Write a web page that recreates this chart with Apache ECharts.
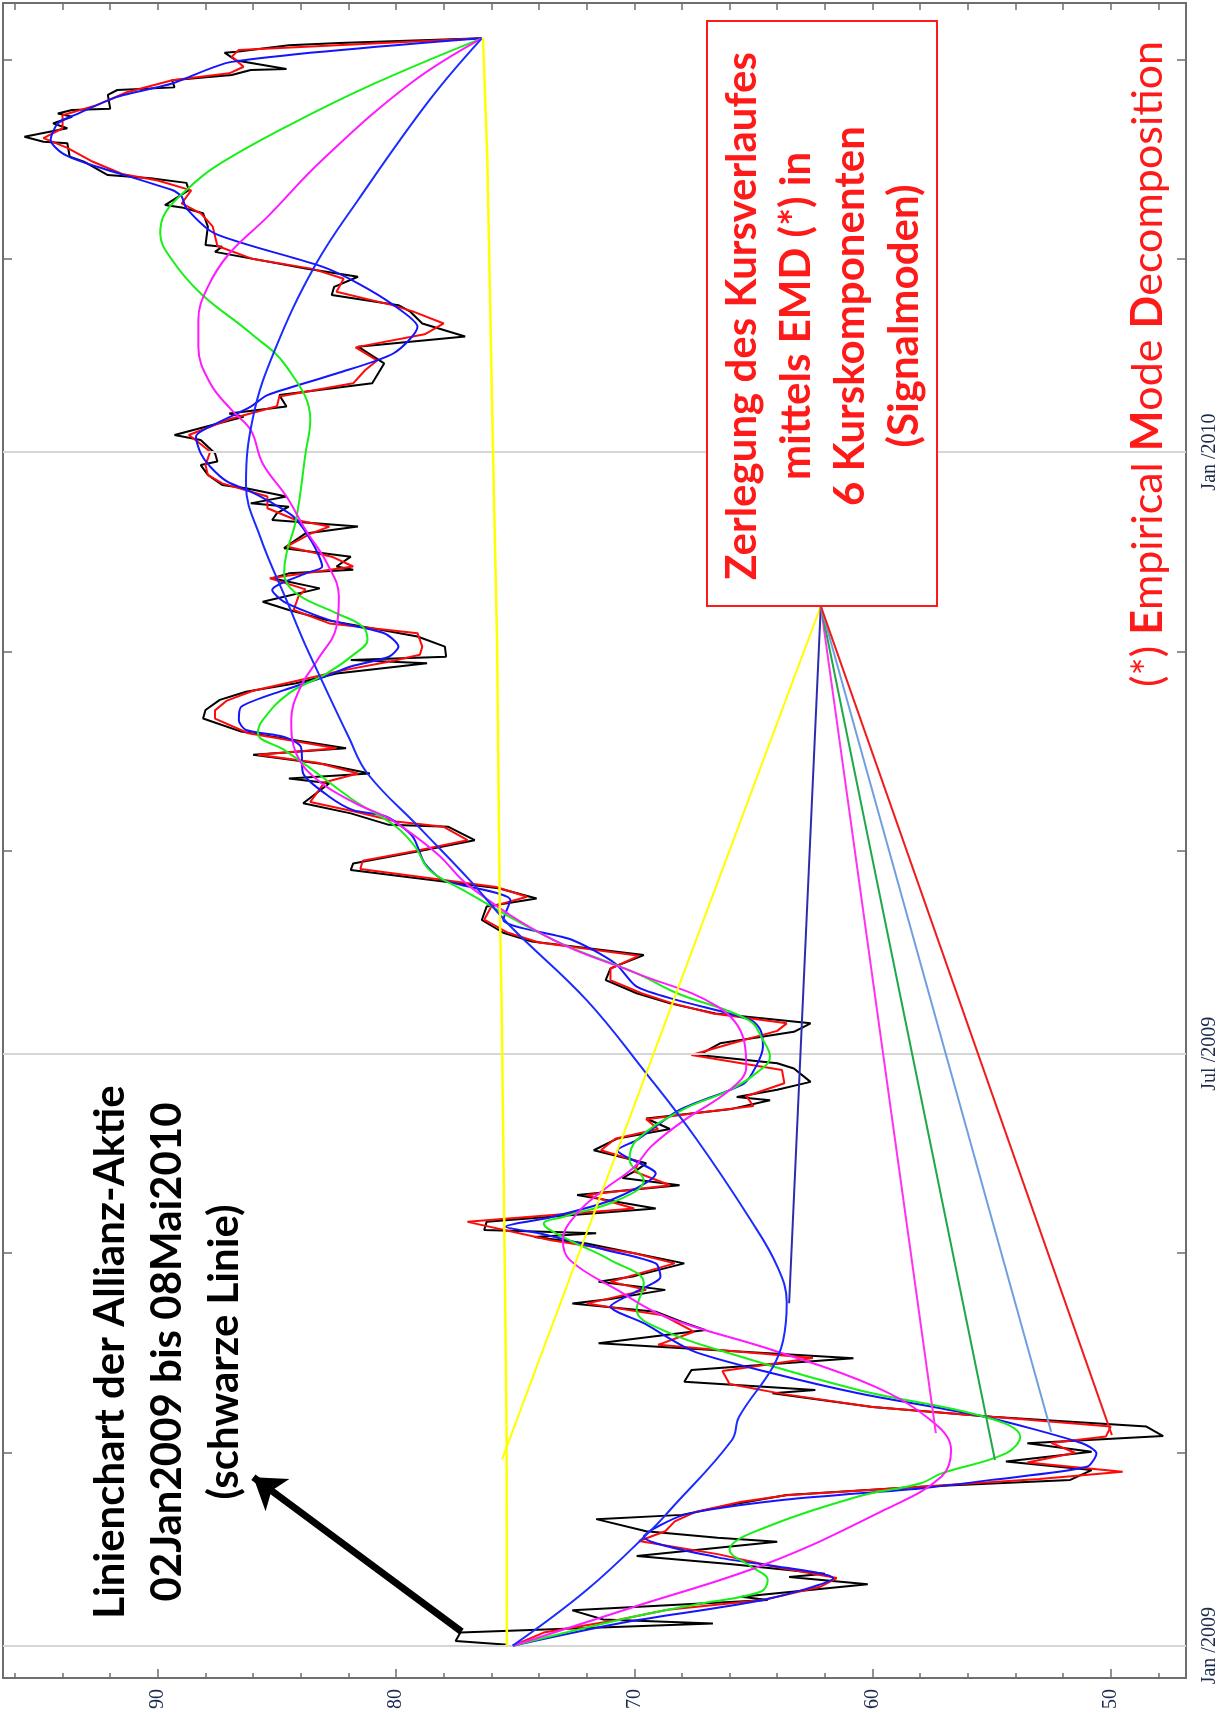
<!DOCTYPE html>
<html>
<head>
<meta charset="utf-8">
<script src="https://cdn.jsdelivr.net/npm/echarts/dist/echarts.min.js"></script>
<style>
html,body{margin:0;padding:0;background:#fff;}
#c{width:1226px;height:1713px;}
</style>
</head>
<body>
<div id="c"></div>
<script>
// ---- Data: time is days since 2009-01-01, values are share price (EUR) ----
const blackDay = [0.3,1.4,4,6.8,8,10.8,14,15,18.8,21,22,25,27.4,31.8,33,35,38.7,40,43,46.1,48.6,50.7,53.7,56.3,59.3,61.9,64.1,67,70,73,77.2,78.2,80.7,84.3,87.9,92.5,96.5,99,102.1,104.6,106,108.8,111.3,113,116.9,120,123,125,126.1,127.1,129.6,133.7,137.8,140.8,143,145.4,147.5,151.5,155.1,158,161.2,164,166.8,167.8,170,172.4,176.5,178.1,180.6,184.2,187.7,190.3,193.3,196.4,199.5,203.5,207.1,211.2,215.3,218,221.9,226,228.5,231.6,234.2,237.2,239.2,243,246.3,250.4,251,254.5,257.6,263.7,265.2,266.7,269.5,272.4,274.4,279.5,283.5,286.1,289.2,291.7,294.3,297.3,300.4,301.4,302.4,305.5,308.6,313.6,316.7,319.2,323.3,326.4,327.9,329,330,333,335.6,340.1,342.2,344.2,346.3,348.3,349.3,351.4,353.9,354.9,358,361,362.1,364.6,366.6,368.7,370.2,375.8,376.8,378.9,382.4,386,392.1,397.2,400.3,404.3,407.9,409.9,413,415.5,418.6,421.1,426.2,427.8,428.3,433.9,438,439.8,440.5,445.1,447.3,448.7,449.7,453.8,455.3,459.4,459.9,461.4,464,465.5,467.5,468.5,469.6,470,474.2,475.7,476.5,478.7,480.3,481.8,482.1,484.7,487.1,487.4,489.4,490.1,491.5];
const blackVal = [75.3,77.5,77.3,66.7,71.3,72.6,64.4,65.5,60.2,63.5,62,66,69.9,64,66.5,69.5,71.6,68,66,63.6,58,51.7,50.8,54.4,50.8,53.5,47.8,48.5,55,60,64.2,62.4,67.9,67.6,60.8,71.5,67.0,68,69.1,72.6,71,68.7,71.5,70,67.9,70,72,74.2,71.6,76.3,76.2,69.1,72.4,68.1,70.5,69.9,69.5,71.7,70.7,68.5,69.5,66,64.3,65.7,64,62.6,63.3,64,67.3,66.4,63.3,62.6,66.6,68.5,69.9,71.2,71.0,69.6,74.3,75.5,76.4,76.2,74.1,75.7,78.6,81.9,81.8,79,76.7,77.8,80.3,81.9,83.9,82.8,84.5,81.1,83,86.0,82.1,86.5,88.1,88.0,87.4,86.3,84.2,82.5,78.7,81.9,77.9,77.95,79.1,82.9,84.5,85.6,83.2,85.2,84.5,81.8,82.5,81.9,84.7,83.8,81.6,85.2,85,84.5,86.1,84.6,86.3,87.3,87.9,88.2,87.5,87.6,87.9,88.2,89.3,86.4,87.0,84.6,84.9,81.0,80.5,81.6,77.1,78.9,79.4,79.9,82.7,82.6,81.6,83.8,87.6,87.3,88,87.9,88.1,89,89.7,88.7,88.8,90.3,92.1,93.1,93.7,93.8,94.8,95.6,93.8,94.4,93.6,94.2,93.6,92,92.1,91.7,89.3,89.4,86.9,86.1,84.6,86.7,87.2,86.7,84.5,82.4,76.4];

const redDay = [0,4,8,11,14,18,20.7,24,28,32,35,38,41,44,46,48.6,51,53.2,56,59,62,64,67,70,73,77,80,84,88,92,96,101,104.6,108.8,111.3,116.9,120,124,129.6,133.7,137.8,140.8,145,148,151.5,155,158,161,165,168,172,176,180.6,184,188,190.3,193.3,196.4,199.5,203.5,207,211,215,218,222,226,229,232,234.5,237.5,240,243,246.3,250.4,252,255,258,264,266.7,270,272.4,274.4,279,283.5,286,289,292,295,298,301,303,305.5,309.6,312.6,316.7,320.8,323,326.4,330,333,336.1,340,342.2,344.2,347.8,351.4,355.4,358,361,365.1,368,370.2,375,379,382,386,390,393,397,401,404.3,408,410,414,418,421,424,428,434,438,441,445,448,450,454,458,461,464,468,471,475,478.7,480.8,482.8,485.9,487.9,491.5];
const redVal = [75.1,73.8,70.6,68.6,64.6,62.2,61.5,64,66.5,69.8,68.7,68.3,67.4,65.5,63.6,58,53,49.5,53.5,51.5,52.5,50.2,50,55,60,63.8,66,66.3,62.5,69,67.5,68.8,72,69.5,71,68.3,70,73.5,77.0,70,72,68.5,70,69.8,71.4,70.8,69,69.5,65,65.3,63.7,63.8,67.6,66.0,64.0,63.6,66.7,68.4,69.7,71.0,71.0,69.8,74.0,75.3,76.3,76.0,74.5,75.8,78.4,81.5,81.4,79.2,77.0,78.0,80.0,81.7,83.6,83,81.6,83.3,85.8,82.5,86.2,87.6,87.6,87.1,86.0,84.2,82.4,80.2,79.0,78.9,79.1,82.8,84.3,84.1,83.8,85.3,81.8,82.7,84.6,83.6,82.8,84.2,85.4,85.4,87.3,87.9,88,87.8,88.3,88.7,87,85,84.9,81.8,81.3,80.8,81.7,78.8,78.0,79.3,80.2,82.5,82.2,83.5,86,87.5,87.7,88.2,89.0,88.6,90.0,91.5,92.8,93.8,94.8,94.0,94.0,92.6,91.3,89.4,87.0,86.4,86.9,86.6,76.4];

const blueDay = [0,7,14.2,20.6,27,33.3,40,44.6,48.1,50.7,54.7,58.8,61.9,70,77.2,83.3,90,98.6,103.7,108,112.8,116.9,121,126.1,128.1,131,136.2,144.4,151.5,154.6,163.8,171.9,177,183.1,188.2,191.3,197.4,201.5,208.6,215.8,222,228,234.1,239.2,247.4,253.5,255.5,259.6,266.7,274.9,277.9,280,283,287.1,292.2,296.3,299.4,302.4,305.5,309.6,313.6,319.2,322.8,327.9,330,337.1,345.2,349.8,352.9,356,360.5,364.6,369.7,371.7,378.9,382.4,389,395.2,403.3,409.9,416.6,421.7,431.8,439.5,443.1,445.1,453.3,456.3,460.4,465.5,468,473.6,477.7,484.3,491.5];
const blueVal = [75.1,70.5,64.45,61.65,66.5,69.6,67.9,63.7,58.0,55.0,51.0,50.6,51.2,55.3,60.6,64.2,67.5,69.6,71.0,70.0,68.9,69.1,71.2,74.0,75.4,73.5,71.0,69.1,70.7,69.9,68.1,65.4,64.9,64.6,64.7,65.1,68.2,69.9,70.8,72.6,75.5,75.2,78.0,78.8,79.3,80.4,81.8,82.8,83.9,84.0,84.7,86.3,86.6,86.5,84.7,83.0,81.9,80.3,79.9,80.5,82.8,84.7,85.2,83.8,83.1,83.5,84.3,85.3,86.1,87.1,87.8,88.2,88.4,88.1,86.1,85.4,82.5,80.1,79.1,80.1,81.6,83.1,87.6,88.8,89.0,89.4,93.0,94.0,94.5,94.2,93.5,91.7,89.4,86.9,76.4];

const greenDay = [0,8.9,12.9,16.5,20.1,24.2,29.3,34.4,45.6,49.6,52.7,58.8,63.9,70,78.2,89.4,96.5,102.7,110.8,117.9,125,129.1,131.1,136.2,142.4,148.5,154.6,163.8,169.9,175,180.1,185.2,191.3,199.5,205.6,215.8,231.1,237.2,244.3,250.4,258.6,266.7,273.9,279,283,291.2,297.3,303.5,307.5,311.6,315.7,321.8,327.9,334,344.2,364.6,374.8,391.1,401.3,413.5,423.7,431.8,438,445.1,452.2,464.5,477.7,491.5];
const greenVal = [75.1,70.0,67.2,64.7,64.4,65.1,66.0,65.1,60.6,58.0,57.1,54.4,53.8,55.3,60.6,66.0,68.8,69.9,69.6,71.0,73.0,73.8,73.0,70.7,69.6,70.2,69.9,68.0,66.0,64.9,64.3,64.6,65.2,68.2,69.9,73.4,77.2,78.6,79.2,80.0,81.8,83.3,84.7,85.8,85.6,84.5,82.9,81.7,81.2,81.4,82.5,84.2,84.7,84.6,84.2,83.8,83.6,84.6,86.1,88.2,89.4,89.9,89.7,88.8,87.6,84.6,80.9,76.4];

const magentaDay = [0,11.9,25.2,41.5,51.7,59.8,68,79.2,90.4,100.6,108.7,117.9,124,132.2,139.3,146.4,152.6,160.7,169.9,177,185.2,195.4,205.6,215.8,232.1,242.3,252.5,257.6,264.7,272.9,283.1,293.3,301.4,311.6,320.8,331,341.2,351.4,361.5,371.7,377.8,386,397.2,405.4,415.5,425.7,436.9,454.3,477.7,491.5];
const magentaVal = [75.1,70.0,64.4,59.5,57.1,56.7,57.4,59.9,64.2,68.7,70.7,72.7,73.0,72.4,71.3,70.0,69.3,67.9,66.0,65.3,65.4,66.5,69.9,73.4,76.9,78.3,80.2,81.7,83.3,84.2,84.4,84.0,83.3,82.5,82.4,82.9,83.8,84.6,85.6,86.1,86.9,87.8,88.3,88.3,87.9,87.0,85.4,83.1,79.4,76.4];

const trendDay = [0,17,36,41.5,62.9,70,85,93.4,105,116,130,155,175,197.4,220,234,250,266.7,278,298,307.5,318,339,355,375.8,396,422,442,472.6,491.5];
const trendVal = [75.1,72.0,69.2,68.5,65.9,65.6,64.2,63.75,63.6,64.0,65.1,67.4,69.5,72.0,75.2,76.9,79.0,81.2,82.0,83.3,83.9,84.5,85.7,86.3,86.0,85.1,83.4,81.6,78.6,76.4];

const yellowDay = [0,63,93,197,228,307,365,455,491.5];
const yellowVal = [75.35,75.36,75.4,75.57,75.65,75.76,75.93,76.17,76.35];

// Annotation pointers from the red box tip (value, day) to each component
const pointerStart = [62.17, 317.9];
const pointerEndVal = [75.55, 63.5, 57.34, 54.86, 52.5, 49.95];
const pointerEndDay = [57, 104.7, 65, 56.8, 65.4, 64.4];
const arrowFrom = [77.25, 4.3];
const arrowTo = [85.99, 51.5];

// Axis ticks
const valueTicks = [48,50,52,54,56,58,60,62,64,66,68,70,72,74,76,78,80,82,84,86,88,90,92,94,96];
const valueLabels = [50,60,70,80,90];
const timeTickDays = [0,59,120,181,243,304,365,424,485];
const timeLabelDays = [0,181,365];
const timeLabelText = ['Jan /2009','Jul /2009','Jan /2010'];
const gridLineDays = [0,181,365];

// ---- Chart ----
const zip = (d, v) => d.map((x, i) => [v[i], x]);
const X_MIN = 46.84, X_MAX = 96.5, Y_MIN = -9.88, Y_MAX = 502.3;
const frameColor = '#6e6e6e';
const labelColor = '#1c2b4b';

function lineSeries(name, d, v, color, width, z, smooth) {
  return {
    name, type: 'line', data: zip(d, v), showSymbol: false, symbol: 'none',
    smooth: smooth || false,
    lineStyle: { color, width }, z, silent: true, animation: false
  };
}

const pointerColors = ['#ffff00', '#2c2cb0', '#ff33ee', '#1fa84a', '#6f9fde', '#f01c1c'];

const series = [
  {
    type: 'line', data: [], silent: true, z: 1,
    markLine: {
      silent: true, symbol: ['none', 'none'], animation: false,
      label: { show: false },
      lineStyle: { color: '#d6d6d6', width: 2, type: 'solid' },
      data: gridLineDays.map(d => ({ yAxis: d }))
    }
  },
  lineSeries('black', blackDay, blackVal, '#000000', 2, 3),
  lineSeries('red', redDay, redVal, '#ff0a0a', 2, 4),
  lineSeries('blue', blueDay, blueVal, '#1414ff', 2, 5, 0.25),
  lineSeries('green', greenDay, greenVal, '#16f016', 2, 6, 0.4),
  lineSeries('magenta', magentaDay, magentaVal, '#ff1aff', 2, 6, 0.4),
  lineSeries('trend', trendDay, trendVal, '#1a2cff', 2, 6, 0.4),
  lineSeries('yellow', yellowDay, yellowVal, '#ffff00', 2.5, 7)
];
pointerEndVal.forEach((v, i) => {
  series.push({
    type: 'line', showSymbol: false, symbol: 'none', silent: true, z: 8,
    data: [pointerStart.slice(), [v, pointerEndDay[i]]],
    lineStyle: { color: pointerColors[i], width: 2 }
  });
});
series.push({
  type: 'lines', coordinateSystem: 'cartesian2d', silent: true, z: 9,
  symbol: ['none', 'arrow'], symbolSize: 30,
  lineStyle: { color: '#000', width: 7, opacity: 1 },
  data: [{ coords: [arrowFrom, arrowTo] }]
});

const chart = echarts.init(document.getElementById('c'), null, { renderer: 'canvas' });
const baseX = {
  type: 'value', inverse: true, min: X_MIN, max: X_MAX, gridIndex: 0,
  splitLine: { show: false }
};
const baseY = {
  type: 'value', min: Y_MIN, max: Y_MAX, gridIndex: 0, splitLine: { show: false }
};
chart.setOption({
  animation: false,
  backgroundColor: '#ffffff',
  grid: { left: 3, right: 40, top: 3, bottom: 35, containLabel: false },
  xAxis: [
    Object.assign({}, baseX, {
      position: 'bottom',
      axisLine: { show: true, onZero: false, lineStyle: { color: frameColor, width: 2 } },
      axisTick: { show: true, inside: true, length: 5, customValues: valueTicks, lineStyle: { color: frameColor, width: 1.5 } },
      axisLabel: {
        show: true, customValues: valueLabels, rotate: 90, margin: 11,
        fontFamily: 'Liberation Serif', fontSize: 20, color: labelColor
      }
    }),
    Object.assign({}, baseX, {
      position: 'top',
      axisLine: { show: true, onZero: false, lineStyle: { color: frameColor, width: 2 } },
      axisTick: { show: true, inside: true, length: 7, customValues: valueTicks, lineStyle: { color: frameColor, width: 1.5 } },
      axisLabel: { show: false }
    }),
    Object.assign({}, baseX, {
      position: 'bottom',
      axisLine: { show: false, onZero: false },
      axisTick: { show: true, inside: true, length: 9, customValues: valueLabels, lineStyle: { color: frameColor, width: 1.5 } },
      axisLabel: { show: false }
    })
  ],
  yAxis: [
    Object.assign({}, baseY, {
      position: 'right',
      axisLine: { show: true, onZero: false, lineStyle: { color: frameColor, width: 2 } },
      axisTick: { show: true, inside: true, length: 9, customValues: timeTickDays, lineStyle: { color: frameColor, width: 1.5 } },
      axisLabel: {
        show: true, customValues: timeLabelDays, rotate: 90, margin: 14,
        fontFamily: 'Liberation Serif', fontSize: 20, color: labelColor,
        formatter: v => {
          const i = timeLabelDays.indexOf(Math.round(v));
          return i >= 0 ? timeLabelText[i] : '';
        }
      }
    }),
    Object.assign({}, baseY, {
      position: 'left',
      axisLine: { show: true, onZero: false, lineStyle: { color: frameColor, width: 2 } },
      axisTick: { show: true, inside: true, length: 9, customValues: timeTickDays, lineStyle: { color: frameColor, width: 1.5 } },
      axisLabel: { show: false }
    })
  ],
  series: series,
  graphic: [
    {
      type: 'text', x: 167, y: 1352, rotation: Math.PI / 2, z: 100,
      style: {
        text: 'Linienchart der Allianz-Aktie\n02Jan2009 bis 08Mai2010\n(schwarze Linie)',
        fill: '#000', fontFamily: 'Lato', fontWeight: 'bold', fontSize: 42,
        lineHeight: 57, align: 'center', verticalAlign: 'middle'
      }
    },
    {
      type: 'rect', z: 100,
      shape: { x: 707, y: 21, width: 230, height: 585 },
      style: { fill: '#ffffff', stroke: '#ff1a1a', lineWidth: 2 }
    },
    {
      type: 'text', x: 823, y: 316, rotation: Math.PI / 2, z: 101,
      style: {
        text: 'Zerlegung des Kursverlaufes\nmittels EMD (*) in\n6 Kurskomponenten\n(Signalmoden)',
        fill: '#ff1a1a', fontFamily: 'Lato', fontWeight: 'bold', fontSize: 42,
        lineHeight: 54, align: 'center', verticalAlign: 'middle'
      }
    },
    {
      type: 'text', x: 1148, y: 364, rotation: Math.PI / 2, z: 101,
      style: {
        text: '{n|(*) }{b|E}{n|mpirical }{b|M}{n|ode }{b|D}{n|ecomposition}',
        align: 'center', verticalAlign: 'middle',
        rich: {
          n: { fill: '#ff1a1a', fontFamily: 'Lato', fontSize: 43, fontWeight: 'normal' },
          b: { fill: '#ff1a1a', fontFamily: 'Lato', fontSize: 43, fontWeight: 'bold' }
        }
      }
    }
  ]
});
</script>
</body>
</html>
